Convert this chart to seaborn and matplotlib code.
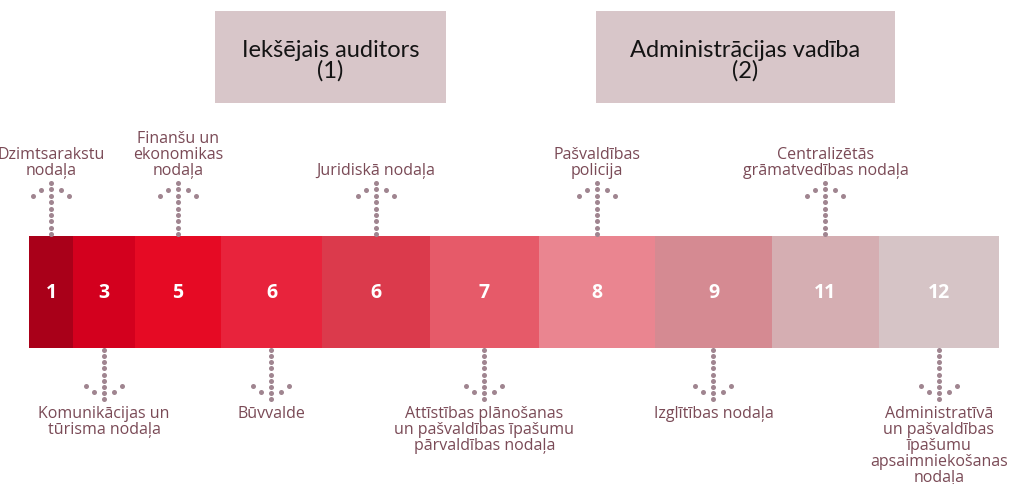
import numpy as np
import pandas as pd
import matplotlib
matplotlib.use("Agg")
import matplotlib.pyplot as plt
import seaborn as sns

# segment numbers shown inside the bar and the width each segment takes
segment_labels = ["1", "3", "5", "6", "6", "7", "8", "9", "11", "12"]
segment_widths = [44, 62, 86, 101, 108, 109, 116, 117, 107, 120]
segment_colors = ["#a90019", "#d3001e", "#e60a24", "#e8233c", "#db3a4c",
                  "#e65a69", "#ea8590", "#d58a92", "#d5aeb2", "#d6c4c6"]

# department attached to each segment, alternating above / below
departments = [
    "Dzimtsarakstu\nnodaļa",
    "Komunikācijas un\ntūrisma nodaļa",
    "Finanšu un\nekonomikas\nnodaļa",
    "Būvvalde",
    "Juridiskā nodaļa",
    "Attīstības plānošanas\nun pašvaldības īpašumu\npārvaldības nodaļa",
    "Pašvaldības\npolicija",
    "Izglītības nodaļa",
    "Centralizētās\ngrāmatvedības nodaļa",
    "Administratīvā\nun pašvaldības\nīpašumu\napsaimniekošanas\nnodaļa",
]
placement = ["up", "down", "up", "down", "up", "down", "up", "down", "up", "down"]

header_titles = ["Iekšējais auditors\n(1)", "Administrācijas vadība\n(2)"]

sns.set_theme(style="white")
plt.rcParams["font.family"] = ["Open Sans", "DejaVu Sans"]

df = pd.DataFrame({"label": segment_labels, "width": segment_widths,
                   "color": segment_colors, "dept": departments, "side": placement})
df["end"] = df["width"].cumsum()
df["center"] = df["end"] - df["width"] / 2

fig = plt.figure(figsize=(10.2, 4.85), dpi=100)
ax = fig.add_axes([0, 0, 1, 1])

bar_y, bar_h = 293, 112
# stacked bar: draw cumulative bars from the longest to the shortest
for i in reversed(range(len(df))):
    sns.barplot(x=[df["end"].iloc[i]], y=[bar_y], orient="h", native_scale=True,
                width=bar_h, color=df["color"].iloc[i], saturation=1,
                linewidth=0, ax=ax)

for _, r in df.iterrows():
    ax.text(r["center"], bar_y, r["label"], color="white", fontsize=14,
            fontweight="bold", ha="center", va="center")

# dotted arrows + department names
dot_color = "#a08590"
text_color = "#7a4a56"
top, bottom = bar_y - bar_h / 2, bar_y + bar_h / 2
xs, ys = [], []
for _, r in df.iterrows():
    cx = r["center"]
    if r["side"] == "up":
        tip, s = top - 53, 1
        stem = np.linspace(tip, top - 2, 9)
        ax.text(cx, tip - 5, r["dept"], ha="center", va="bottom", fontsize=11.5,
                color=text_color, linespacing=1.0)
    else:
        tip, s = bottom + 51, -1
        stem = np.linspace(bottom + 2, tip, 9)
        ax.text(cx, tip + 6, r["dept"], ha="center", va="top", fontsize=11.5,
                color=text_color, linespacing=1.0)
    xs += [cx] * len(stem) + [cx - 10, cx + 10, cx - 18, cx + 18]
    ys += list(stem) + [tip + 7 * s, tip + 7 * s, tip + 13 * s, tip + 13 * s]
sns.scatterplot(x=xs, y=ys, s=13, color=dot_color, linewidth=0, ax=ax)

# header boxes
box_color = "#d8c6c9"
for (x0, x1), title in zip([(186, 417), (567, 866)], header_titles):
    ax.add_patch(plt.Rectangle((x0, 12), x1 - x0, 92, color=box_color, lw=0))
    ax.text((x0 + x1) / 2, 61, title, ha="center", va="center", fontsize=17,
            color="#141414", family=["Lato", "DejaVu Sans"], linespacing=0.95)

ax.set_xlim(-29, 991)
ax.set_ylim(485, 0)
ax.axis("off")

fig.savefig("out.png", dpi=100, facecolor="white")
